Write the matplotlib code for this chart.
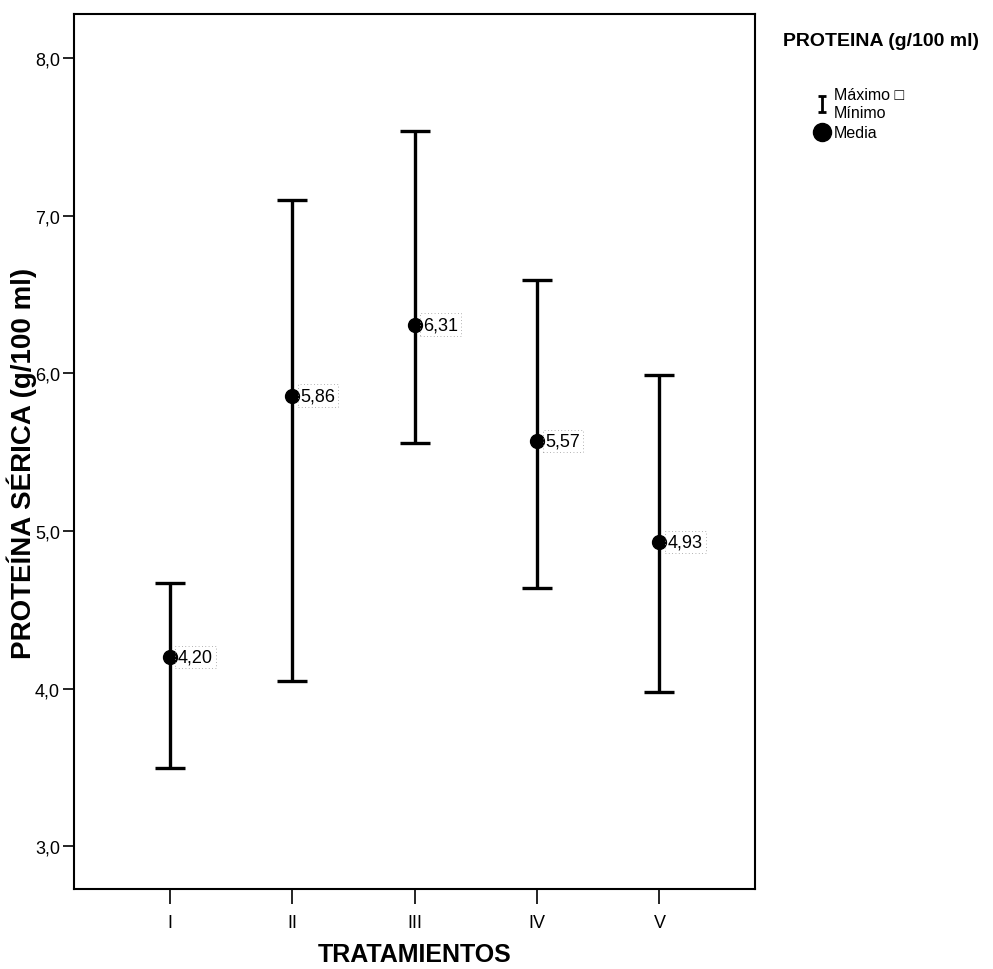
import numpy as np
import matplotlib
matplotlib.use('Agg')
import matplotlib.pyplot as plt
from matplotlib.lines import Line2D
from matplotlib.path import Path

# data
tratamientos = ['I', 'II', 'III', 'IV', 'V']
media = [4.20, 5.86, 6.31, 5.57, 4.93]
maximo = [4.67, 7.10, 7.54, 6.59, 5.99]
minimo = [3.50, 4.05, 5.56, 4.64, 3.98]
yticks = [3.0, 4.0, 5.0, 6.0, 7.0, 8.0]

fam = ['Liberation Sans', 'DejaVu Sans']
plt.rcParams['font.family'] = fam

fig = plt.figure(figsize=(9.93, 9.70), dpi=100)
ax = fig.add_axes([74/993, 1-890/970, (755-74)/993, (890-15)/970])

x = np.arange(len(tratamientos))
med = np.array(media)
err = [med - np.array(minimo), np.array(maximo) - med]
ax.errorbar(x, med, yerr=err, fmt='o', color='black', ecolor='black',
            elinewidth=2.4, capsize=11, capthick=2.4, markersize=10)

for xi, m in zip(x, media):
    ax.text(xi + 0.07, m, ('%.2f' % m).replace('.', ','), fontsize=13,
            va='center', ha='left',
            bbox=dict(boxstyle='square,pad=0.15', fc='none', ec='#999999',
                      lw=0.6, ls=(0, (1, 3))))

ax.set_xlim(-0.78, 4.78)
ax.set_ylim(2.73, 8.28)
ax.set_xticks(x)
ax.set_xticklabels(tratamientos, fontsize=13)
ax.set_yticks(yticks)
ax.set_yticklabels([('%.1f' % v).replace('.', ',') for v in yticks], fontsize=13)
ax.tick_params(axis='x', length=11, width=1.2, pad=7)
ax.tick_params(axis='y', length=8, width=1.2, pad=2)
for s in ax.spines.values():
    s.set_linewidth(1.5)

ax.set_xlabel('TRATAMIENTOS', fontsize=18, fontweight='bold', va='center')
ax.xaxis.set_label_coords(0.5, -(955-890)/875)
ax.set_ylabel('PROTEÍNA SÉRICA (g/100 ml)', fontsize=20, fontweight='bold',
              va='center')
ax.yaxis.set_label_coords(-(74-22)/681, (890-463)/875)

# legend
fig.text(783/993, 1-42/970, 'PROTEINA (g/100 ml)', fontsize=14, fontweight='bold',
         va='center', ha='left')
i_bar = Path([(-0.45, -1), (0.45, -1), (0, -1), (0, 1), (-0.45, 1), (0.45, 1)],
             [Path.MOVETO, Path.LINETO, Path.MOVETO, Path.LINETO,
              Path.MOVETO, Path.LINETO])
h_err = Line2D([], [], marker=i_bar, color='black', ls='none', markersize=12,
               markeredgewidth=2)
h_med = Line2D([], [], marker='o', color='black', ls='none', markersize=13)
ax.legend([h_err, h_med], ['Máximo \u25a1\nMínimo', 'Media'],
          loc='upper left', bbox_to_anchor=(800/993, 1-74/970),
          bbox_transform=fig.transFigure, frameon=False, handlelength=0.9,
          handletextpad=0.3, labelspacing=0.35,
          prop={'size': 11.5})

fig.savefig('out.png', dpi=100)
